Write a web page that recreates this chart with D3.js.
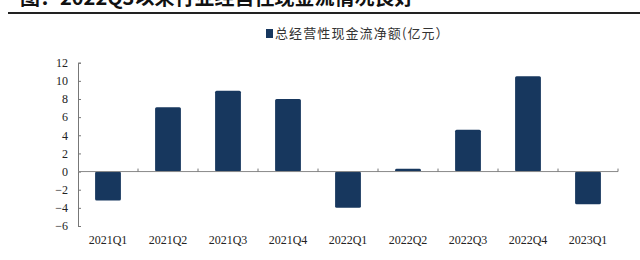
<!DOCTYPE html>
<html>
<head>
<meta charset="utf-8">
<script src="https://cdn.jsdelivr.net/npm/d3@7"></script>
<style>
  body { margin: 0; background: #fff; }
  svg { display: block; }
</style>
</head>
<body>
<div id="chart"></div>
<script>
const quarters = ["2021Q1", "2021Q2", "2021Q3", "2021Q4", "2022Q1", "2022Q2", "2022Q3", "2022Q4", "2023Q1"];
const cashFlow = [-3.2, 7.1, 8.9, 8.0, -4.0, 0.3, 4.6, 10.5, -3.6];
const yTicks = [-6, -4, -2, 0, 2, 4, 6, 8, 10, 12];
const seriesName = "总经营性现金流净额(亿元）";
const titleText = "图：2022Q3以来行业经营性现金流情况良好";

const width = 640, height = 260;
const barColor = "#17375e";

const svg = d3.select("#chart")
    .append("svg")
    .attr("width", width)
    .attr("height", height);

// title of the source page, cut off by the top edge like in the original
svg.append("text")
    .attr("x", 20)
    .attr("y", 5)
    .attr("font-family", "Noto Sans CJK SC")
    .attr("font-weight", "bold")
    .attr("font-size", "20px")
    .attr("fill", "#111")
    .text(titleText);

svg.append("line")
    .attr("x1", 8).attr("x2", 640)
    .attr("y1", 13).attr("y2", 13)
    .attr("stroke", "#222")
    .attr("stroke-width", 2);

const x = d3.scaleBand()
    .domain(quarters)
    .range([78, 618])
    .paddingInner(0.57)
    .paddingOuter(0.285);

const xOuter = d3.scaleBand()
    .domain(quarters)
    .range([78, 618]);

const y = d3.scaleLinear()
    .domain([-6, 12])
    .range([226, 62.7]);

// bars
svg.selectAll("rect.bar")
    .data(cashFlow)
    .enter()
    .append("rect")
    .attr("class", "bar")
    .attr("x", (d, i) => x(quarters[i]))
    .attr("width", x.bandwidth())
    .attr("y", d => y(Math.max(0, d)))
    .attr("height", d => Math.abs(y(d) - y(0)))
    .attr("rx", 1.5)
    .attr("fill", barColor);

// y axis, ticks pointing inward
const yAxis = svg.append("g")
    .attr("transform", "translate(78,0)")
    .call(d3.axisRight(y).tickValues(yTicks).tickSize(3).tickFormat(d3.format("d")));
yAxis.select(".domain").attr("stroke", "#777");
yAxis.selectAll(".tick line").attr("stroke", "#777");
yAxis.selectAll(".tick text")
    .attr("x", -10)
    .attr("text-anchor", "end")
    .attr("font-family", "Liberation Serif")
    .attr("font-size", "12px")
    .attr("fill", "#222");

// zero line with category separators
svg.append("line")
    .attr("x1", 78).attr("x2", 618)
    .attr("y1", y(0)).attr("y2", y(0))
    .attr("stroke", "#888")
    .attr("stroke-width", 1);

svg.selectAll("line.sep")
    .data(quarters)
    .enter()
    .append("line")
    .attr("class", "sep")
    .attr("x1", d => xOuter(d) + xOuter.step())
    .attr("x2", d => xOuter(d) + xOuter.step())
    .attr("y1", y(0))
    .attr("y2", y(0) - 3)
    .attr("stroke", "#777");

// category labels
svg.selectAll("text.cat")
    .data(quarters)
    .enter()
    .append("text")
    .attr("class", "cat")
    .attr("x", d => xOuter(d) + xOuter.bandwidth() / 2)
    .attr("y", 244)
    .attr("text-anchor", "middle")
    .attr("font-family", "Liberation Serif")
    .attr("font-size", "12px")
    .attr("fill", "#222")
    .text(d => d);

// legend
svg.append("rect")
    .attr("x", 266)
    .attr("y", 29)
    .attr("width", 7)
    .attr("height", 9)
    .attr("fill", barColor);

svg.append("text")
    .attr("x", 275)
    .attr("y", 38)
    .attr("font-family", "Noto Sans CJK SC")
    .attr("font-size", "13px")
    .attr("letter-spacing", "1.1px")
    .attr("fill", "#333")
    .text(seriesName);
</script>
</body>
</html>
